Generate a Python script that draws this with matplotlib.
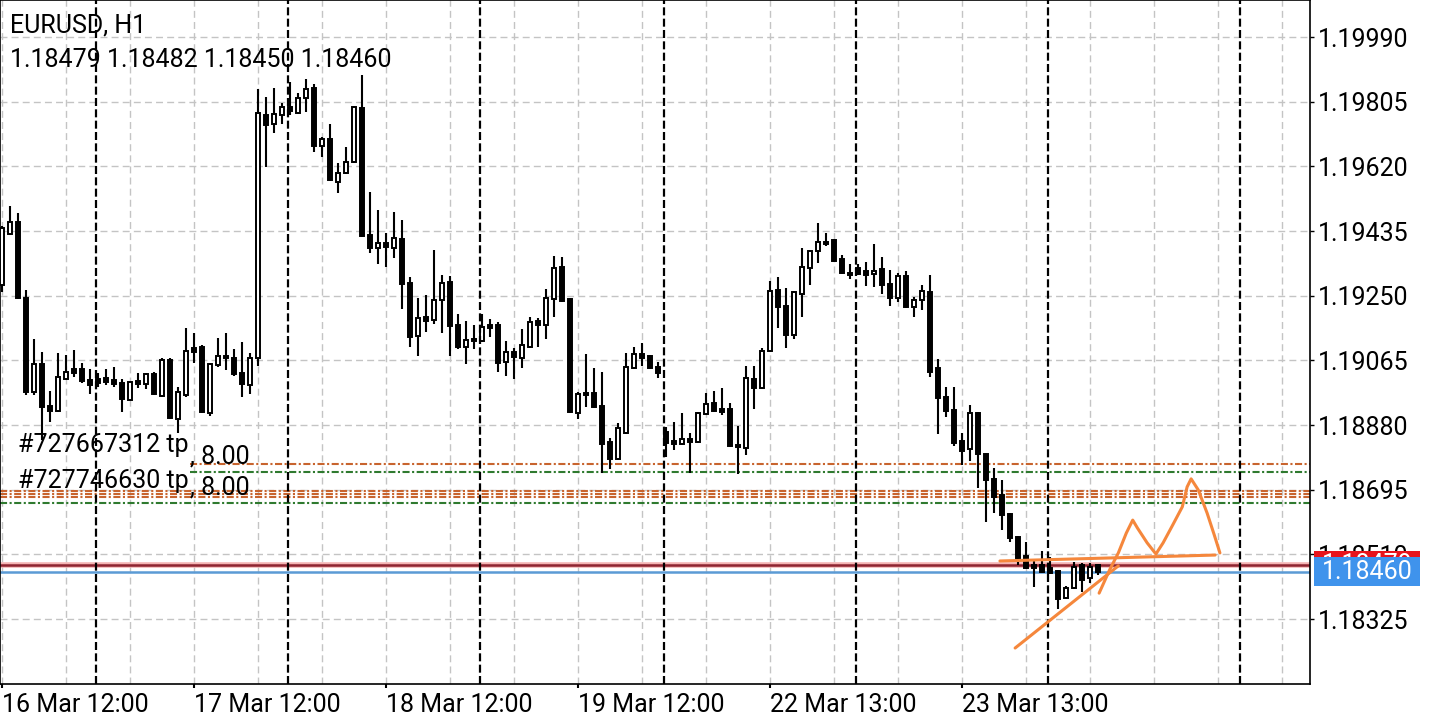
import matplotlib
matplotlib.use("Agg")
import matplotlib.pyplot as plt
import matplotlib.transforms as mtransforms
from matplotlib.patches import Rectangle

plt.rcParams['font.family'] = ['Roboto', 'DejaVu Sans']

title = "EURUSD, H1"

# hourly candles, oldest first
opens = [1.19281, 1.19426, 1.19461, 1.19243, 1.18974, 1.19055, 1.18934, 1.18920, 1.19012, 1.19040,
         1.19040, 1.19009, 1.19012, 1.19014, 1.19009, 1.19000, 1.18952, 1.19006, 1.18997, 1.19026,
         1.18963, 1.19066, 1.18897, 1.18966, 1.19100, 1.19103, 1.18914, 1.19052, 1.19077, 1.19072,
         1.19029, 1.18994, 1.19072, 1.19767, 1.19741, 1.19767, 1.19790, 1.19773, 1.19816, 1.19844,
         1.19678, 1.19698, 1.19575, 1.19601, 1.19633, 1.19787, 1.19424, 1.19386, 1.19401, 1.19386,
         1.19412, 1.19286, 1.19135, 1.19189, 1.19180, 1.19238, 1.19289, 1.19166, 1.19103, 1.19126,
         1.19120, 1.19166, 1.19166, 1.19060, 1.19089, 1.19072, 1.19103, 1.19178, 1.19166, 1.19241,
         1.19332, 1.19241, 1.18914, 1.18972, 1.18972, 1.18934, 1.18831, 1.18783, 1.18857, 1.19043,
         1.19083, 1.19077, 1.19046, 1.18860, 1.18834, 1.18826, 1.18840, 1.18831, 1.18912, 1.18943,
         1.18926, 1.18926, 1.18823, 1.18814, 1.19012, 1.18986, 1.19092, 1.19266, 1.19220, 1.19138,
         1.19255, 1.19329, 1.19378, 1.19404, 1.19409, 1.19355, 1.19315, 1.19329, 1.19321, 1.19312,
         1.19326, 1.19283, 1.19243, 1.19306, 1.19218, 1.19238, 1.19261, 1.19043, 1.18960, 1.18923,
         1.18834, 1.18811, 1.18914, 1.18797, 1.18726, 1.18680, 1.18625, 1.18560, 1.18505, 1.18480,
         1.18480, 1.18471, 1.18462, 1.18385, 1.18414, 1.18480, 1.18442, 1.18479]
highs = [1.19449, 1.19507, 1.19487, 1.19266, 1.19126, 1.19089, 1.18977, 1.19086, 1.19080, 1.19095,
         1.19057, 1.19040, 1.19029, 1.19040, 1.19046, 1.19012, 1.19006, 1.19029, 1.19029, 1.19032,
         1.19072, 1.19072, 1.18989, 1.19158, 1.19143, 1.19109, 1.19057, 1.19129, 1.19143, 1.19097,
         1.19117, 1.19086, 1.19841, 1.19818, 1.19844, 1.19801, 1.19861, 1.19830, 1.19870, 1.19856,
         1.19704, 1.19741, 1.19630, 1.19675, 1.19792, 1.19881, 1.19547, 1.19495, 1.19429, 1.19489,
         1.19467, 1.19303, 1.19243, 1.19252, 1.19381, 1.19309, 1.19306, 1.19198, 1.19178, 1.19166,
         1.19198, 1.19183, 1.19175, 1.19120, 1.19100, 1.19155, 1.19189, 1.19186, 1.19269, 1.19364,
         1.19361, 1.19243, 1.18974, 1.19083, 1.19043, 1.19032, 1.18843, 1.18886, 1.19086, 1.19103,
         1.19115, 1.19080, 1.19060, 1.18874, 1.18889, 1.18914, 1.18857, 1.18917, 1.18972, 1.18977,
         1.18986, 1.18943, 1.18877, 1.19049, 1.19049, 1.19100, 1.19292, 1.19303, 1.19272, 1.19263,
         1.19386, 1.19380, 1.19458, 1.19429, 1.19412, 1.19366, 1.19341, 1.19341, 1.19346, 1.19398,
         1.19361, 1.19323, 1.19315, 1.19321, 1.19246, 1.19281, 1.19309, 1.19069, 1.18989, 1.18989,
         1.18857, 1.18937, 1.18917, 1.18800, 1.18757, 1.18723, 1.18628, 1.18563, 1.18545, 1.18494,
         1.18520, 1.18502, 1.18464, 1.18420, 1.18488, 1.18485, 1.18485, 1.18482]
lows = [1.19261, 1.19424, 1.19240, 1.18966, 1.18966, 1.18837, 1.18889, 1.18917, 1.19009, 1.19017,
        1.19000, 1.18969, 1.18989, 1.18994, 1.18989, 1.18917, 1.18949, 1.18986, 1.18983, 1.18966,
        1.18960, 1.18897, 1.18857, 1.18960, 1.19057, 1.18914, 1.18906, 1.19046, 1.19037, 1.19020,
        1.18960, 1.18969, 1.19049, 1.19618, 1.19715, 1.19741, 1.19767, 1.19770, 1.19776, 1.19661,
        1.19647, 1.19578, 1.19544, 1.19599, 1.19631, 1.19418, 1.19372, 1.19341, 1.19332, 1.19358,
        1.19212, 1.19103, 1.19077, 1.19146, 1.19169, 1.19143, 1.19077, 1.19097, 1.19055, 1.19097,
        1.19117, 1.19132, 1.19032, 1.19020, 1.19012, 1.19043, 1.19100, 1.19103, 1.19126, 1.19189,
        1.19232, 1.18914, 1.18897, 1.18932, 1.18930, 1.18743, 1.18754, 1.18780, 1.18854, 1.19040,
        1.19049, 1.19040, 1.19014, 1.18789, 1.18809, 1.18823, 1.18743, 1.18828, 1.18909, 1.18917,
        1.18909, 1.18817, 1.18740, 1.18794, 1.18926, 1.18983, 1.19089, 1.19158, 1.19100, 1.19126,
        1.19189, 1.19281, 1.19344, 1.19392, 1.19346, 1.19312, 1.19298, 1.19309, 1.19278, 1.19275,
        1.19255, 1.19220, 1.19232, 1.19215, 1.19189, 1.19209, 1.19017, 1.18854, 1.18903, 1.18820,
        1.18766, 1.18777, 1.18700, 1.18603, 1.18628, 1.18580, 1.18545, 1.18480, 1.18469, 1.18417,
        1.18457, 1.18455, 1.18354, 1.18382, 1.18411, 1.18402, 1.18428, 1.18450]
closes = [1.19444, 1.19461, 1.19243, 1.18974, 1.19055, 1.18932, 1.18920, 1.19017, 1.19032, 1.19029,
          1.19006, 1.18994, 1.19000, 1.19003, 1.18997, 1.18954, 1.19003, 1.18997, 1.19026, 1.18968,
          1.19066, 1.18899, 1.18974, 1.19092, 1.19089, 1.18916, 1.19055, 1.19077, 1.19072, 1.19026,
          1.18997, 1.19072, 1.19773, 1.19738, 1.19770, 1.19790, 1.19778, 1.19816, 1.19841, 1.19678,
          1.19698, 1.19580, 1.19601, 1.19633, 1.19790, 1.19420, 1.19386, 1.19401, 1.19389, 1.19415,
          1.19283, 1.19132, 1.19186, 1.19178, 1.19238, 1.19286, 1.19163, 1.19103, 1.19123, 1.19120,
          1.19160, 1.19158, 1.19057, 1.19089, 1.19075, 1.19109, 1.19175, 1.19166, 1.19243, 1.19329,
          1.19235, 1.18916, 1.18969, 1.18966, 1.18932, 1.18826, 1.18783, 1.18871, 1.19046, 1.19083,
          1.19072, 1.19043, 1.19029, 1.18829, 1.18826, 1.18840, 1.18831, 1.18914, 1.18940, 1.18920,
          1.18917, 1.18820, 1.18817, 1.19014, 1.18986, 1.19092, 1.19263, 1.19218, 1.19138, 1.19261,
          1.19332, 1.19378, 1.19404, 1.19398, 1.19349, 1.19314, 1.19309, 1.19312, 1.19309, 1.19321,
          1.19281, 1.19243, 1.19306, 1.19218, 1.19238, 1.19263, 1.19032, 1.18957, 1.18920, 1.18829,
          1.18806, 1.18914, 1.18797, 1.18723, 1.18674, 1.18623, 1.18557, 1.18500, 1.18471, 1.18471,
          1.18460, 1.18457, 1.18382, 1.18414, 1.18474, 1.18437, 1.18474, 1.18460]

price_levels = [1.19990, 1.19805, 1.19620, 1.19435, 1.19250, 1.19065, 1.18880, 1.18695, 1.18510, 1.18325]
date_labels = ["16 Mar 12:00", "17 Mar 12:00", "18 Mar 12:00", "19 Mar 12:00", "22 Mar 13:00", "23 Mar 13:00"]
date_bars = [0, 24, 48, 72, 96, 120]
separator_bars = [11.85, 35.85, 59.85, 82.85, 106.85, 130.85, 154.85]

bid = 1.18460
ask = 1.18479
tp_lines = [1.18768, 1.18691, 1.18683, 1.18674]
open_lines = [1.18746, 1.18657]
order_labels = ["#727667312 tp", "#727746630 tp"]
order_label_prices = [1.18823, 1.18720]
order_volumes = ["8.00", "8.00"]
volume_prices = [1.18789, 1.18700]

# hand drawn strokes (bar index, price)
stroke_flat_x = [124.8, 151.7]
stroke_flat_y = [1.18491, 1.18508]
stroke_rise_x = [126.7, 139.6]
stroke_rise_y = [1.18242, 1.18477]
stroke_zig_x = [137.2, 138.5, 139.6, 140.6, 141.4, 142.0, 143.2, 144.3, 145.2, 146.4,
                147.6, 148.2, 148.7, 149.6, 150.7, 151.6, 152.3]
stroke_zig_y = [1.18399, 1.18465, 1.18514, 1.18571, 1.18608, 1.18585, 1.18543, 1.18511, 1.18543, 1.18594,
                1.18646, 1.18703, 1.18726, 1.18694, 1.18628, 1.18565, 1.18514]

fs = 18

fig = plt.figure(figsize=(14.4, 7.2), dpi=100)
ax = fig.add_axes([0, 36.5 / 720, 1310 / 1440, 683.5 / 720])

x = list(range(len(opens)))
bottoms = [min(o, c) for o, c in zip(opens, closes)]
heights = [max(abs(c - o), 0.00002) for o, c in zip(opens, closes)]
colors = ['white' if c > o else 'black' for o, c in zip(opens, closes)]

ax.vlines(x, lows, highs, color='black', linewidth=1.5, zorder=3)
ax.bar(x, heights, bottom=bottoms, width=0.5, color=colors, edgecolor='black', linewidth=1.4, zorder=4)

for b in separator_bars:
    ax.axvline(b, color='black', linewidth=1.6, linestyle=(0, (3.6, 1.5)), zorder=5)

# order lines
tp_color = '#c8642e'
op_color = '#2f7a2f'
dashdot = (0, (3.4, 1.2, 1.0, 1.2))
for i, p in enumerate(tp_lines):
    ax.axhline(p, xmin=0.145 if i == 0 else 0, color=tp_color, linewidth=1.5, linestyle=dashdot, zorder=2)
for i, p in enumerate(open_lines):
    ax.axhline(p, xmin=0.145 if i == 0 else 0, color=op_color, linewidth=1.5, linestyle=dashdot, zorder=2)

ax.axhline(ask, color='#f4b3b3', linewidth=4, zorder=2)
ax.axhline(ask, color='#8e2430', linewidth=1.8, zorder=2.1)
ax.axhline(bid, color='#5b9bd5', linewidth=1.8, zorder=2.1)

for lbl, p in zip(order_labels, order_label_prices):
    ax.text(2.05, p, lbl, fontsize=fs, ha='left', va='center', zorder=6)
for v, p in zip(order_volumes, volume_prices):
    ax.text(23.5, p, ", " + v, fontsize=fs, ha='left', va='center', zorder=6)

orange = '#f5873c'
ax.plot(stroke_flat_x, stroke_flat_y, color=orange, linewidth=2.2, solid_capstyle='round', zorder=7)
ax.plot(stroke_rise_x, stroke_rise_y, color=orange, linewidth=2.2, solid_capstyle='round', zorder=7)
ax.plot(stroke_zig_x, stroke_zig_y, color=orange, linewidth=2.2, solid_capstyle='round',
        solid_joinstyle='round', zorder=7)

ax.set_xlim(-0.19, 163.56)
ax.set_ylim(1.181405, 1.20096)

ax.set_xticks(date_bars)
ax.set_xticklabels(date_labels)
ax.set_xticks(list(range(0, 161, 8)), minor=True)
for t in ax.get_xticklabels():
    t.set_horizontalalignment('left')
ax.tick_params(axis='x', which='major', length=3, width=1.5, pad=4, labelsize=fs)
ax.tick_params(axis='x', which='minor', length=0)

ax.yaxis.tick_right()
ax.set_yticks(price_levels)
ax.set_yticklabels([f"{p:.5f}" for p in price_levels])
ax.tick_params(axis='y', length=3, width=1, pad=3, labelsize=fs)

ax.grid(True, axis='x', which='both', color='#c4c4c4', linestyle=(0, (5, 3)), linewidth=1.0)
ax.grid(True, axis='y', which='major', color='#c4c4c4', linestyle=(0, (5, 3)), linewidth=1.0)
for s in ax.spines.values():
    s.set_color('black')
    s.set_linewidth(1.2)

# price tags on the right
trans = mtransforms.blended_transform_factory(ax.transAxes, ax.transData)
tag_h = 0.00082
for p, fc, z in [(ask, '#e8141c', 10), (bid, '#3f93ec', 11)]:
    ax.add_patch(Rectangle((1.0031, p - tag_h / 2), 0.0809, tag_h, transform=trans,
                           facecolor=fc, edgecolor='none', clip_on=False, zorder=z))
    ax.text(1.0435, p, f"{p:.5f}", transform=trans, color='white', fontsize=fs,
            ha='center', va='center', clip_on=False, zorder=z)

ax.text(0.0076, 1 - 25 / 683.5, title, transform=ax.transAxes, fontsize=fs, ha='left', va='center')
ax.text(0.0076, 1 - 60 / 683.5, f"{opens[-1]:.5f} {highs[-1]:.5f} {lows[-1]:.5f} {closes[-1]:.5f}",
        transform=ax.transAxes, fontsize=fs, ha='left', va='center')

fig.savefig("out.png", dpi=100)
